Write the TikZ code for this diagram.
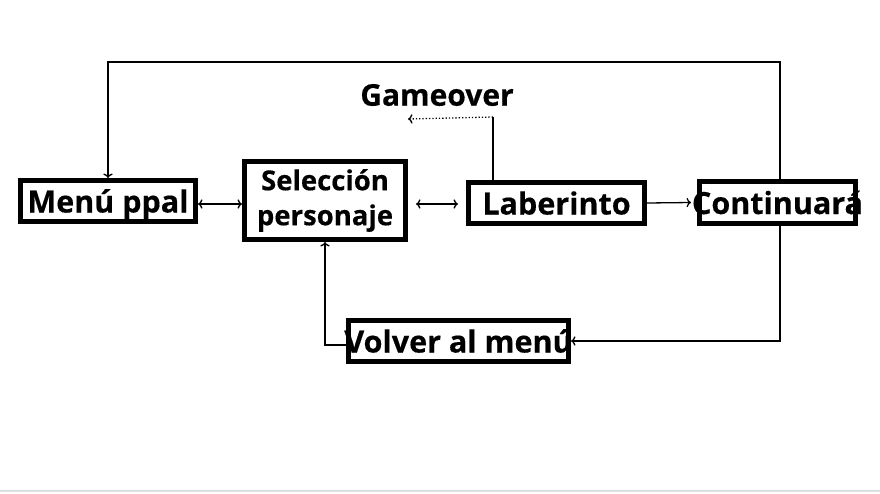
\documentclass[tikz,border=0pt]{standalone}
\usepackage{fontspec}
\setmainfont{Open Sans}[BoldFeatures={FakeBold=0.4}]
\usetikzlibrary{arrows.meta, calc, positioning}

\begin{document}
\begin{tikzpicture}[x=1pt, y=-1pt, box/.style={draw, line width=5pt, inner sep=0pt, font=\bfseries\fontsize{30.5}{31}\selectfont}, oneline/.style={text height=23pt, text depth=0pt}, flow/.style={line width=1.3pt, ->}]
				\useasboundingbox (0,0) rectangle (880,493);
				\draw[gray!25, line width=1.5pt] (0,491) -- (880,491);
				
				\node[box, oneline, minimum width=175pt, minimum height=41pt] (menu) at (108,201) {\makebox[0pt]{Menú ppal}};
				\node[box, minimum width=161pt, minimum height=78pt, align=center, font=\bfseries\fontsize{27.5}{35}\selectfont] (seleccion) at (325,200.5) {Selección\\personaje};
				\node[box, oneline, minimum width=176pt, minimum height=41pt] (laberinto) at (556.5,203) {\makebox[0pt]{Laberinto}};
				\node[box, oneline, minimum width=156pt, minimum height=42pt] (continuara) at (777.5,202.5) {\makebox[0pt]{Continuará}};
				\node[box, oneline, minimum width=220pt, minimum height=41pt] (volver) at (458.5,341) {\makebox[0pt]{Volver al menú}};
				\node[font=\bfseries\fontsize{30}{31}\selectfont] (gameover) at (437,95) {Gameover};
				\coordinate (gofin) at (408,119);
				
				\draw[flow, <->] ($(menu.east)+(0,3)$) -- ($(seleccion.west)+(0,3.5)$);
				\draw[flow, <->] ($(seleccion.east)+(8,3.5)$) -- ($(laberinto.west)+(-8,1)$);
				\draw[flow] (laberinto.east) -- ($(continuara.west)+(-6,0)$);
				
				\draw[flow] ($(continuara.north)+(2.5,0)$) -- ++(0,-117) -| (menu.north);
				\draw[line width=1.3pt] ($(laberinto.north)+(-63.5,0)$) -- ++(0,-63) coordinate (gocorner);
				\draw[flow, dotted] (gocorner) -- (gofin);
				\draw[flow] ($(continuara.south)+(2.5,0)$) |- (volver.east);
				\draw[flow] ($(volver.west)+(0,4)$) -| (seleccion.south);
				
\end{tikzpicture}
\end{document}
